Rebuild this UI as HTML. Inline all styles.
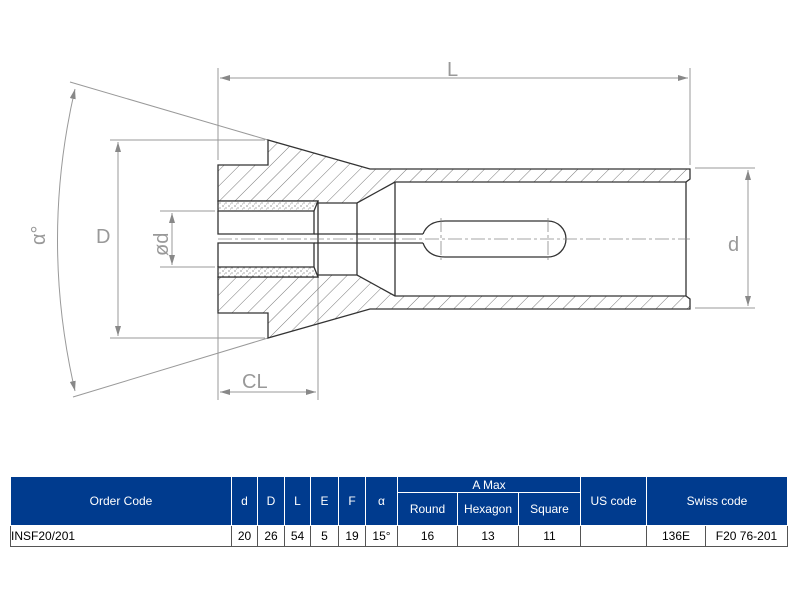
<!DOCTYPE html>
<html><head><meta charset="utf-8"><style>
body{margin:0;width:800px;height:591px;background:#fff;position:relative;overflow:hidden;font-family:"Liberation Sans",sans-serif}
svg{position:absolute;left:0;top:0}
table{position:absolute;left:10px;top:476px;border-collapse:collapse;font-size:12px}
td{padding:0;text-align:center;border:1px solid #fff}
.h td{background:#003b8e;color:#fff;border-color:#fff}
.d td{border:1px solid #555;height:20px}
</style></head><body>
<svg width="800" height="470" viewBox="0 0 800 470">
<defs>
<pattern id="h" patternUnits="userSpaceOnUse" width="11" height="11" patternTransform="rotate(45)"><line x1="0" y1="0" x2="0" y2="11" stroke="#555" stroke-width="0.8"/></pattern>
<pattern id="g" patternUnits="userSpaceOnUse" width="6" height="5"><rect width="6" height="5" fill="#fff"/><circle cx="1" cy="1" r="0.6" fill="#555"/><circle cx="4" cy="3" r="0.6" fill="#777"/><circle cx="2.5" cy="4" r="0.4" fill="#555"/></pattern>
<marker id="a" viewBox="0 0 10 6" refX="10" refY="3" markerWidth="10" markerHeight="6" orient="auto-start-reverse"><path d="M0,0L10,3L0,6z" fill="#888"/></marker>
</defs>
<g stroke="#999" stroke-width="1" fill="none">
<line x1="218" y1="68" x2="218" y2="160"/><line x1="690" y1="68" x2="690" y2="165"/>
<line x1="220" y1="78" x2="688" y2="78" marker-start="url(#a)" marker-end="url(#a)"/>
<line x1="110" y1="140" x2="265" y2="140"/><line x1="110" y1="338" x2="265" y2="338"/>
<line x1="118" y1="142" x2="118" y2="336" marker-start="url(#a)" marker-end="url(#a)"/>
<line x1="160" y1="211" x2="215" y2="211"/><line x1="160" y1="267" x2="215" y2="267"/>
<line x1="172" y1="213" x2="172" y2="265" marker-start="url(#a)" marker-end="url(#a)"/>
<line x1="70" y1="82" x2="268" y2="140"/><line x1="73" y1="397" x2="268" y2="338"/>
<path d="M75,89 Q40,240 75,391" marker-start="url(#a)" marker-end="url(#a)"/>
<line x1="218" y1="270" x2="218" y2="400"/><line x1="318" y1="270" x2="318" y2="400"/>
<line x1="220" y1="392" x2="316" y2="392" marker-start="url(#a)" marker-end="url(#a)"/>
<line x1="695" y1="168" x2="755" y2="168"/><line x1="695" y1="308" x2="755" y2="308"/>
<line x1="748" y1="170" x2="748" y2="306" marker-start="url(#a)" marker-end="url(#a)"/>
</g>
<g fill="#999" font-size="20" font-family="Liberation Sans,sans-serif">
<text x="447" y="76">L</text><text x="96" y="243">D</text>
<text x="242" y="388">CL</text><text x="728" y="251">d</text>
<text transform="translate(168,256) rotate(-90)">ød</text>
<text transform="translate(45,245) rotate(-90)">α°</text>
</g>
<g stroke="#333" stroke-width="1.3">
<path d="M218,165H268V140L370,169H690V179L686,182H395L357,203H318V201H218Z" fill="url(#h)"/>
<path d="M218,313H268V338L370,309H690V299L686,296H395L357,275H318V277H218Z" fill="url(#h)"/>
<path d="M218,201H318L314,211H218Z" fill="url(#g)"/>
<path d="M218,277H318L314,267H218Z" fill="url(#g)"/>
<g fill="none">
<path d="M218,211V234H314V211M218,267V243H314V267"/>
<path d="M318,203V275M357,203V275M395,182V296M686,182V296"/>
<path d="M314,234H423M314,243H423"/>
<path d="M423,234Q428,221 445,221H548A18,18 0 0 1 548,257H445Q428,257 423,243"/>
</g>
</g>
<g stroke="#888" stroke-width="0.8" stroke-dasharray="14,3,3,3" fill="none">
<line x1="218" y1="239" x2="690" y2="239"/>
<line x1="441" y1="218" x2="441" y2="260"/><line x1="548" y1="218" x2="548" y2="260"/>
</g>
</svg>
<table>
<tr class="h" style="height:16px"><td rowspan="2" style="width:220px">Order Code</td><td rowspan="2" style="width:25px">d</td><td rowspan="2" style="width:26px">D</td><td rowspan="2" style="width:25px">L</td><td rowspan="2" style="width:27px">E</td><td rowspan="2" style="width:26px">F</td><td rowspan="2" style="width:31px">α</td><td colspan="3">A Max</td><td rowspan="2" style="width:65px">US code</td><td rowspan="2" colspan="2" style="width:140px">Swiss code</td></tr>
<tr class="h" style="height:33px"><td style="width:59px">Round</td><td style="width:60px">Hexagon</td><td style="width:61px">Square</td></tr>
<tr class="d"><td style="text-align:left">INSF20/201</td><td>20</td><td>26</td><td>54</td><td>5</td><td>19</td><td>15°</td><td>16</td><td>13</td><td>11</td><td></td><td style="width:58px">136E</td><td>F20 76-201</td></tr>
</table>
</body></html>
